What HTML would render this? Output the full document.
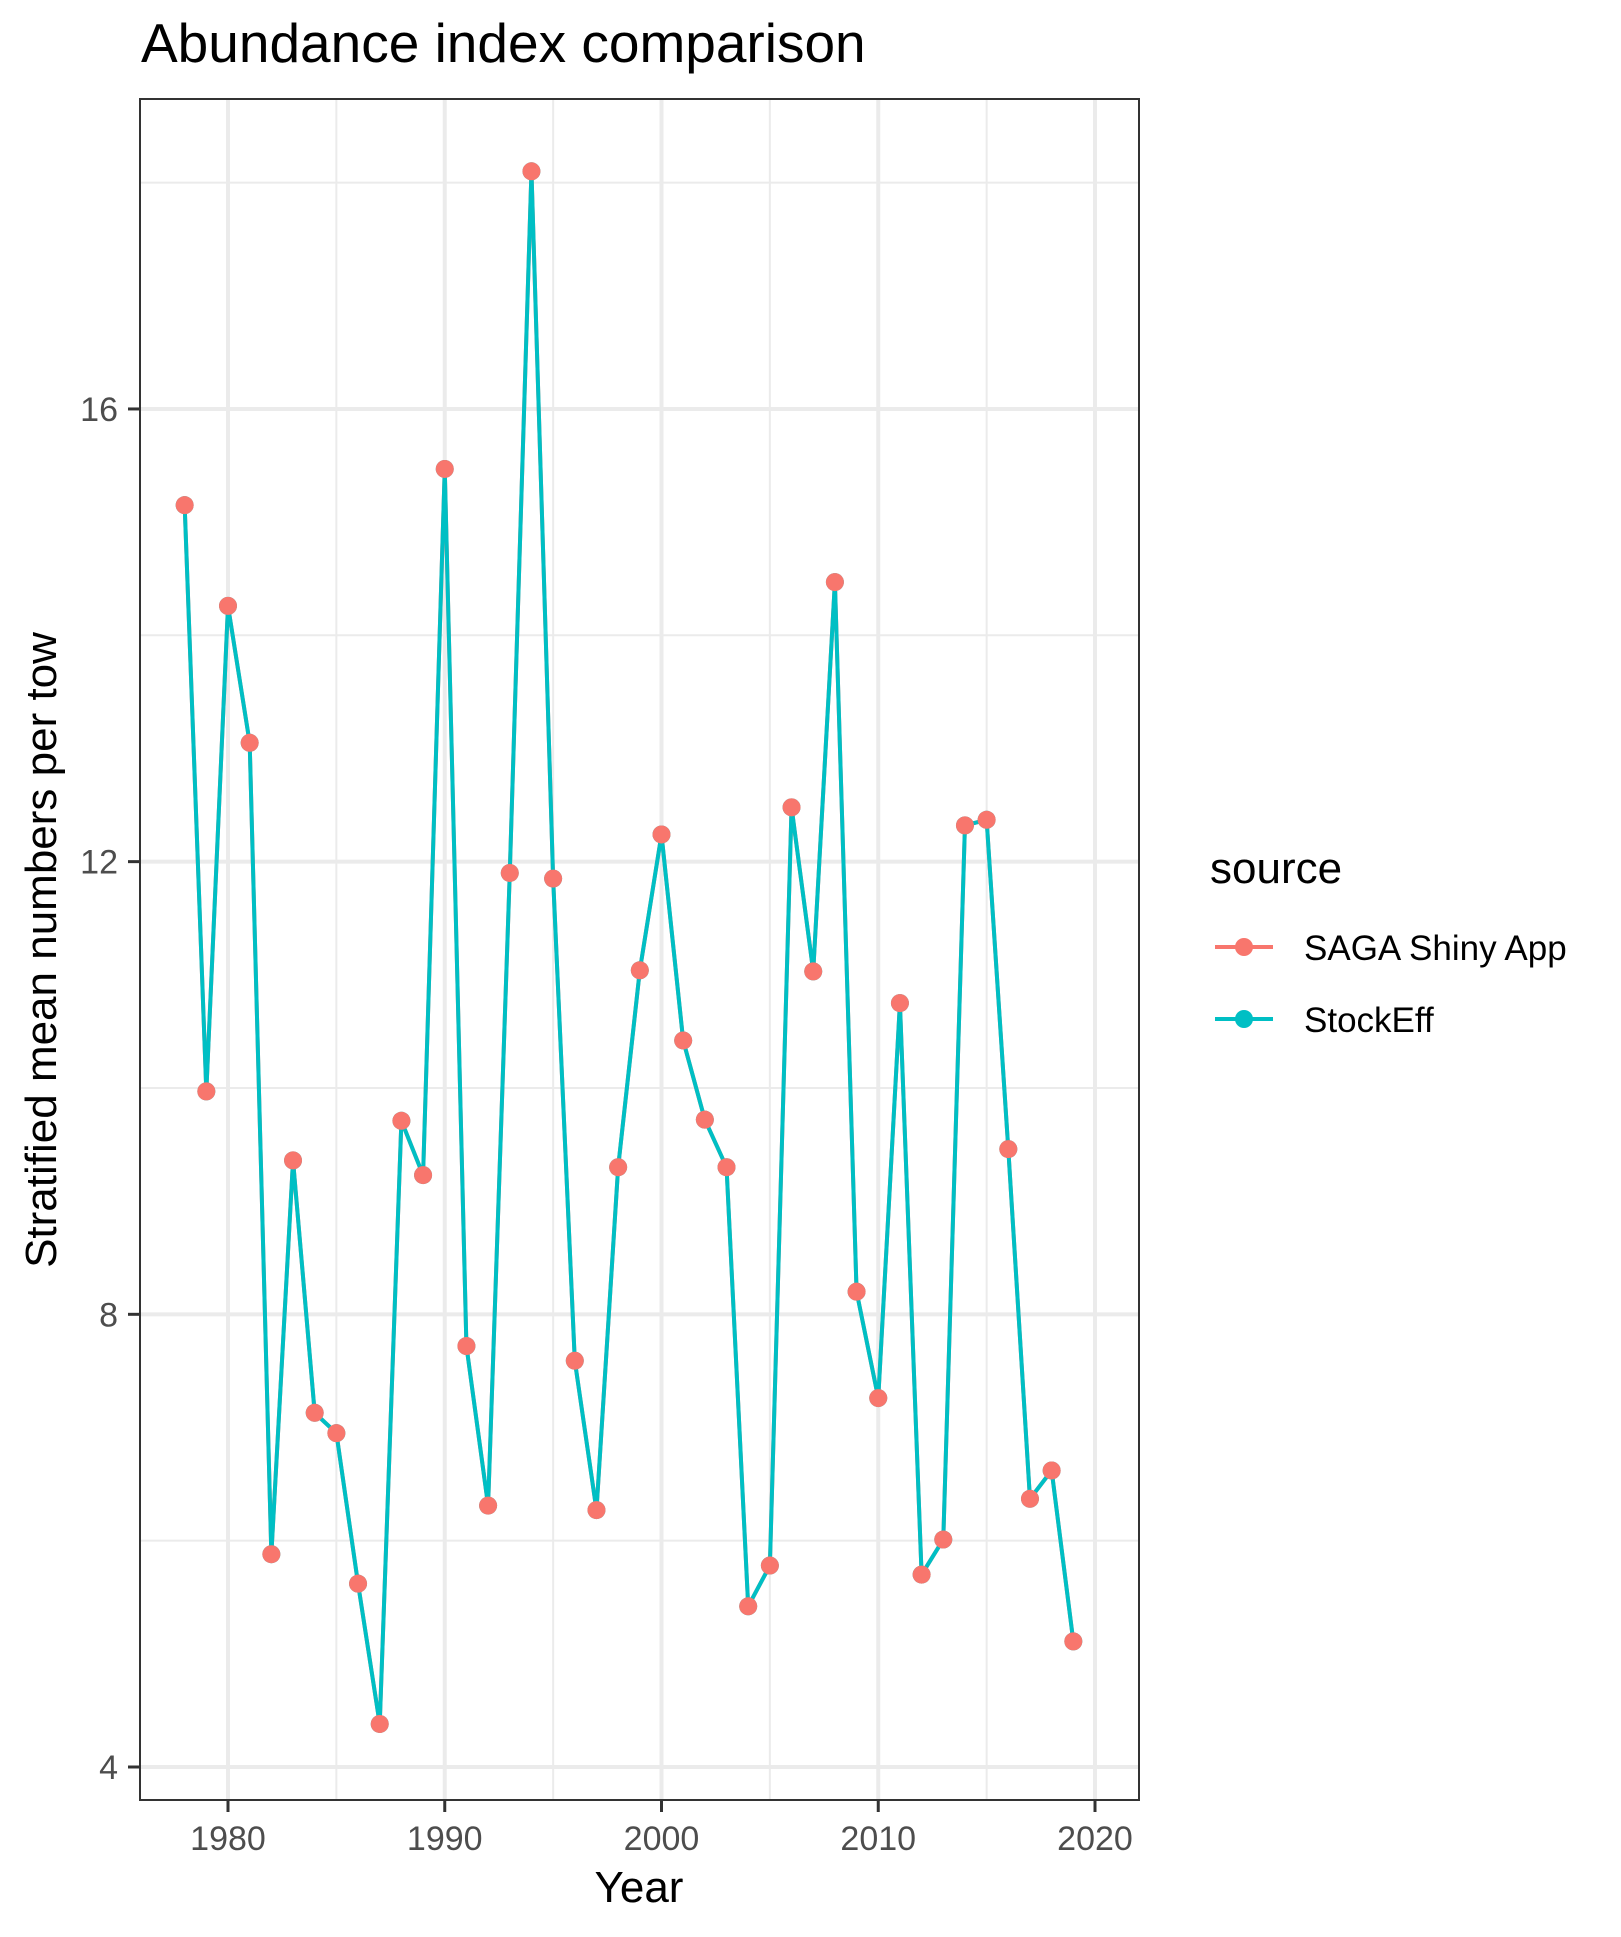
<!DOCTYPE html>
<html><head><meta charset="utf-8"><style>
html,body{margin:0;padding:0;background:#fff;}
svg{display:block;font-family:"Liberation Sans",Arial,sans-serif;}
</style></head><body>
<svg id="chart" width="1621" height="1937" viewBox="0 0 1621 1937">
<text x="141" y="62" font-size="55" fill="#000">Abundance index comparison</text>
<rect x="140" y="99" width="999" height="1701" fill="#fff"/>
<g id="grid"></g>
<g id="series"></g>
<rect x="140" y="99" width="999" height="1701" fill="none" stroke="#333" stroke-width="2"/>
<g id="axes"></g>
<text x="639" y="1902" font-size="44" text-anchor="middle" fill="#000">Year</text>
<text transform="translate(56,950) rotate(-90)" font-size="44" text-anchor="middle" fill="#000">Stratified mean numbers per tow</text>
<g>
<text x="1210" y="883" font-size="44" fill="#000">source</text>
<g>
<line x1="1215" y1="947" x2="1273" y2="947" stroke="#F8766D" stroke-width="4"/>
<circle cx="1244" cy="947" r="9" fill="#F8766D"/>
<text x="1304" y="960" font-size="35" fill="#000">SAGA Shiny App</text>
</g>
<g>
<line x1="1215" y1="1019" x2="1273" y2="1019" stroke="#00BFC4" stroke-width="4"/>
<circle cx="1244" cy="1019" r="9" fill="#00BFC4"/>
<text x="1304" y="1032" font-size="35" fill="#000">StockEff</text>
</g>
</g>
</svg>
<script>
const years = [1978,1979,1980,1981,1982,1983,1984,1985,1986,1987,1988,1989,1990,1991,1992,1993,1994,1995,1996,1997,1998,1999,2000,2001,2002,2003,2004,2005,2006,2007,2008,2009,2010,2011,2012,2013,2014,2015,2016,2017,2018,2019];
const sagaValues = [15.15,9.97,14.26,13.05,5.88,9.36,7.13,6.95,5.62,4.38,9.71,9.23,15.47,7.72,6.31,11.90,18.10,11.85,7.59,6.27,9.30,11.04,12.24,10.42,9.72,9.30,5.42,5.78,12.48,11.03,14.47,8.20,7.26,10.75,5.70,6.01,12.32,12.37,9.46,6.37,6.62,5.11];
const stockEffValues = [15.15,9.97,14.26,13.05,5.88,9.36,7.13,6.95,5.62,4.38,9.71,9.23,15.47,7.72,6.31,11.90,18.10,11.85,7.59,6.27,9.30,11.04,12.24,10.42,9.72,9.30,5.42,5.78,12.48,11.03,14.47,8.20,7.26,10.75,5.70,6.01,12.32,12.37,9.46,6.37,6.62,5.11];
const xTicks = [1980,1990,2000,2010,2020];
const xMinor = [1985,1995,2005,2015];
const yTicks = [4,8,12,16];
const yMinor = [6,10,14,18];

const NS='http://www.w3.org/2000/svg';
const X0=140,X1=1139,Y0=99,Y1=1800;
function xs(v){return 228+(v-1980)*21.675;}
function ys(v){return 1767-(v-4)*113.17;}
function mk(tag,attrs,parent){const e=document.createElementNS(NS,tag);for(const k in attrs)e.setAttribute(k,attrs[k]);parent.appendChild(e);return e;}
const grid=document.getElementById('grid'),axes=document.getElementById('axes'),series=document.getElementById('series');
yMinor.forEach(v=>{const l=mk('line',{x1:X0,x2:X1,y1:ys(v),y2:ys(v),stroke:'#ebebeb','stroke-width':2},grid);

});
xMinor.forEach(v=>{const l=mk('line',{x1:xs(v),x2:xs(v),y1:Y0,y2:Y1,stroke:'#ebebeb','stroke-width':2},grid);

});
yTicks.forEach(v=>{const l=mk('line',{x1:X0,x2:X1,y1:ys(v),y2:ys(v),stroke:'#ebebeb','stroke-width':4},grid);


const t=mk('line',{x1:128,x2:X0,y1:ys(v),y2:ys(v),stroke:'#333','stroke-width':3},axes);


const tx=mk('text',{x:118,y:ys(v)+12,'font-size':34,'text-anchor':'end',fill:'#4d4d4d'},axes);tx.textContent=v;

});
xTicks.forEach(v=>{const l=mk('line',{x1:xs(v),x2:xs(v),y1:Y0,y2:Y1,stroke:'#ebebeb','stroke-width':4},grid);


const t=mk('line',{x1:xs(v),x2:xs(v),y1:Y1,y2:Y1+12,stroke:'#333','stroke-width':3},axes);


const tx=mk('text',{x:xs(v),y:1850,'font-size':34,'text-anchor':'middle',fill:'#4d4d4d'},axes);tx.textContent=v;

});
const pl1=mk('polyline',{points:years.map((y,i)=>xs(y)+','+ys(sagaValues[i])).join(' '),fill:'none',stroke:'#F8766D','stroke-width':4},series);


stockEffValues.forEach((v,i)=>{const c=mk('circle',{cx:xs(years[i]),cy:ys(v),r:9,fill:'#00BFC4'},series);

});
const pl2=mk('polyline',{points:years.map((y,i)=>xs(y)+','+ys(stockEffValues[i])).join(' '),fill:'none',stroke:'#00BFC4','stroke-width':4},series);


sagaValues.forEach((v,i)=>{const c=mk('circle',{cx:xs(years[i]),cy:ys(v),r:9,fill:'#F8766D'},series);

});
</script>
</body></html>
